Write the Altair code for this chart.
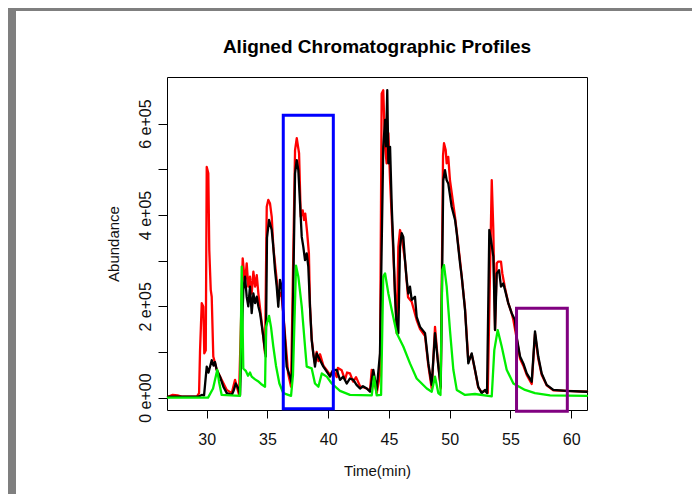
import altair as alt
import pandas as pd

TITLE = "Aligned Chromatographic Profiles"
X_TITLE = "Time(min)"
Y_TITLE = "Abundance"

TIME_TICKS = [30, 35, 40, 45, 50, 55, 60]
ABUND_TICKS = [0, 100000, 200000, 300000, 400000, 500000, 600000]
ABUND_LABELS = ["0 e+00", "", "2 e+05", "", "4 e+05", "", "6 e+05"]

# (time in min, abundance in units of 1e5)
RED = [(26.81,0.02),(27.20,0.06),(27.60,0.05),(28.00,0.02),(29.20,0.03),(29.37,0.10),(29.45,1.04),
       (29.59,2.07),(29.72,1.99),(29.80,0.97),(29.92,1.04),(30.00,5.05),(30.13,4.91),(30.21,3.23),
       (30.33,2.36),(30.41,2.21),(30.54,0.90),(30.82,0.61),(31.23,0.39),(31.65,0.17),(32.06,0.10),
       (32.33,0.39),(32.66,0.06),(32.96,3.05),(33.15,2.50),(33.29,2.94),(33.42,2.43),(33.56,2.65),
       (33.70,2.28),(33.84,2.76),(33.98,2.43),(34.12,2.68),(34.25,2.28),(34.53,1.63),(34.80,0.97),
       (34.94,4.18),(35.07,4.33),(35.21,4.25),(35.35,3.96),(35.48,3.30),(35.76,2.58),(35.89,2.14),
       (36.03,2.30),(36.17,2.20),(36.30,1.85),(36.70,0.53),(36.94,0.24),(37.27,5.42),(37.41,5.68),
       (37.60,5.35),(37.74,3.96),(37.90,4.10),(38.01,3.89),(38.11,4.03),(38.27,3.60),(38.41,3.16),
       (38.50,2.00),(38.64,1.30),(38.77,0.97),(38.91,0.75),(39.05,1.00),(39.19,0.80),(39.33,0.95),
       (39.60,0.70),(39.88,0.60),(40.15,0.50),(40.42,0.61),(40.70,0.45),(40.80,0.65),(41.11,0.60),
       (41.38,0.39),(41.55,0.55),(41.79,0.53),(42.05,0.35),(42.29,0.45),(42.62,0.25),(43.17,0.20),
       (43.44,0.15),(43.58,0.61),(43.99,0.10),(44.26,0.50),(44.40,6.66),(44.53,6.73),(44.68,5.49),
       (44.81,5.13),(44.95,5.79),(45.09,4.76),(45.36,3.16),(45.64,1.41),(45.77,3.30),(45.91,3.67),
       (46.05,3.52),(46.32,3.00),(46.57,2.20),(46.87,2.10),(47.28,1.70),(47.56,1.50),(47.97,1.35),
       (48.24,0.70),(48.52,0.20),(48.79,1.55),(49.06,0.70),(49.26,0.20),(49.45,5.30),(49.53,5.57),
       (49.67,5.42),(49.75,5.13),(49.88,5.27),(50.02,4.76),(50.44,3.95),(50.85,3.00),(51.26,1.95),
       (51.53,0.80),(51.81,0.95),(52.08,0.60),(52.35,0.22),(52.63,0.12),(52.91,0.15),(53.13,0.10),
       (53.35,3.20),(53.46,4.76),(53.59,3.67),(53.73,1.48),(53.87,2.94),(54.00,2.98),(54.22,2.98),
       (54.33,2.72),(54.55,2.40),(54.82,2.07),(55.10,1.85),(55.24,1.70),(55.51,1.30),(55.79,0.85),
       (56.06,0.70),(56.34,0.50),(56.75,0.30),(57.02,1.40),(57.29,0.85),(57.57,0.50),(57.98,0.27),
       (58.53,0.16),(59.63,0.15),(61.30,0.13)]

BLACK = [(26.81,0.02),(29.28,0.02),(29.59,0.06),(29.78,0.05),(30.00,0.68),(30.15,0.55),(30.41,0.82),
         (30.56,0.70),(30.68,0.78),(30.82,0.61),(31.09,0.46),(31.37,0.24),(31.65,0.10),(32.06,0.06),
         (32.21,0.15),(32.39,0.31),(32.60,0.20),(32.74,0.06),(33.01,2.36),(33.15,2.65),(33.29,2.21),
         (33.42,2.00),(33.56,2.43),(33.70,1.85),(33.84,2.28),(33.98,2.07),(34.12,2.21),(34.25,2.00),
         (34.39,1.85),(34.66,1.33),(34.86,0.90),(34.96,3.50),(35.13,3.89),(35.35,3.67),(35.48,3.30),
         (35.62,2.79),(35.76,2.43),(35.89,1.99),(36.03,2.58),(36.17,2.43),(36.30,1.85),(36.58,0.68),
         (36.86,0.46),(37.00,0.31),(37.27,4.91),(37.41,5.20),(37.54,4.98),(37.68,4.25),(37.82,3.52),
         (37.95,3.30),(38.09,3.01),(38.23,3.16),(38.36,2.87),(38.50,1.99),(38.64,1.26),(38.77,0.97),
         (38.91,0.68),(39.05,0.97),(39.33,0.82),(39.60,0.68),(39.88,0.57),(40.15,0.46),(40.40,0.60),
         (40.70,0.61),(40.97,0.39),(41.24,0.46),(41.52,0.31),(41.79,0.42),(42.07,0.39),(42.33,0.28),
         (42.62,0.20),(42.86,0.25),(43.17,0.20),(43.44,0.13),(43.71,0.61),(43.99,0.17),(44.26,0.97),
         (44.53,5.49),(44.68,6.08),(44.76,5.50),(44.86,6.73),(44.95,5.13),(45.09,5.49),(45.23,4.18),
         (45.36,3.30),(45.50,2.21),(45.64,1.55),(45.77,1.41),(45.91,3.30),(46.05,3.60),(46.18,3.52),
         (46.32,3.01),(46.46,2.58),(46.59,2.28),(46.73,2.43),(46.87,2.14),(47.14,2.21),(47.28,1.77),
         (47.56,1.55),(47.97,1.41),(48.24,0.75),(48.52,0.28),(48.79,1.41),(49.06,0.70),(49.26,0.24),
         (49.47,4.76),(49.61,4.98),(49.75,4.76),(49.88,4.69),(50.16,4.18),(50.44,3.89),(50.58,3.60),
         (50.85,2.94),(50.99,2.65),(51.26,1.92),(51.53,0.75),(51.81,0.97),(52.08,0.61),(52.35,0.24),
         (52.63,0.10),(52.91,0.17),(53.07,0.10),(53.26,3.67),(53.40,3.45),(53.59,3.09),(53.73,1.48),
         (53.87,2.72),(54.06,2.79),(54.22,2.43),(54.41,2.50),(54.55,2.36),(54.82,2.07),(55.10,1.85),
         (55.37,1.70),(55.51,1.33),(55.79,0.90),(56.06,0.75),(56.34,0.53),(56.75,0.35),(57.02,1.45),
         (57.29,0.90),(57.57,0.53),(57.98,0.28),(58.53,0.17),(59.63,0.15),(61.30,0.13)]

GREEN = [(26.81,0.00),(30.11,0.00),(30.52,0.20),(30.87,0.61),(31.01,0.35),(31.23,0.06),(32.74,0.04),
         (32.88,2.87),(33.01,0.64),(33.23,0.58),(33.40,0.48),(33.56,0.55),(33.70,0.46),(33.98,0.40),
         (34.22,0.36),(34.47,0.30),(34.80,0.24),(34.88,1.55),(35.13,1.79),(35.29,1.55),(35.48,1.12),
         (35.70,0.70),(35.98,0.31),(36.30,0.10),(36.94,0.04),(37.10,0.50),(37.35,2.89),(37.54,2.65),
         (37.82,2.00),(38.09,1.12),(38.23,0.68),(38.64,0.64),(38.91,0.31),(39.19,0.24),(39.47,0.53),
         (39.88,0.46),(40.29,0.31),(40.97,0.15),(41.79,0.06),(43.58,0.05),(43.77,0.46),(43.99,0.05),
         (44.35,0.06),(44.53,2.65),(44.68,2.72),(44.95,2.28),(45.23,1.92),(45.64,1.41),(46.18,1.12),
         (46.73,0.75),(47.28,0.42),(48.11,0.20),(48.52,0.13),(48.79,0.46),(49.06,0.10),(49.24,0.06),
         (49.39,2.79),(49.53,2.90),(49.75,2.43),(50.02,1.48),(50.30,0.61),(50.58,0.17),(51.26,0.06),
         (52.08,0.08),(53.46,0.03),(53.67,1.04),(53.95,1.48),(54.28,1.12),(54.69,0.61),(55.24,0.31),
         (56.20,0.17),(57.02,0.10),(58.26,0.05),(61.30,0.04)]

# highlight boxes: colour, time from, time to, abundance from, abundance to (1e5 units)
BOXES = [("#0000ff", 36.30, 40.42, -0.24, 6.18),
         ("#800080", 55.50, 59.68, -0.30, 1.96)]

FONT = "Liberation Sans"
X_DOMAIN = [26.73, 61.30]
Y_DOMAIN = [-27000, 702000]


def series_df(pairs):
    return pd.DataFrame({
        "time": [p[0] for p in pairs],
        "abund": [p[1] * 1e5 for p in pairs],
        "idx": list(range(len(pairs))),
    })


label_expr = "''"
for val, lab in reversed(list(zip(ABUND_TICKS, ABUND_LABELS))):
    label_expr = f"datum.value == {val} ? '{lab}' : ({label_expr})"

x_scale = alt.Scale(domain=X_DOMAIN, nice=False, zero=False)
y_scale = alt.Scale(domain=Y_DOMAIN, nice=False, zero=False)

x_axis = alt.Axis(values=TIME_TICKS, title=X_TITLE, grid=False, domain=False,
                  tickSize=8, tickColor="black", tickWidth=1,
                  labelFont=FONT, labelFontSize=16, labelColor="#111111", labelPadding=13,
                  labelFlush=False, labelOverlap=False,
                  titleFont=FONT, titleFontSize=15, titleFontWeight="normal", titleColor="#111111",
                  titleY=60, titleBaseline="middle")
y_axis = alt.Axis(values=ABUND_TICKS, labelExpr=label_expr, title=Y_TITLE, grid=False, domain=False,
                  tickSize=9, tickColor="black", tickWidth=1,
                  labelFont=FONT, labelFontSize=16, labelColor="#111111", labelPadding=8,
                  labelAngle=270, labelAlign="center", labelBaseline="alphabetic",
                  labelFlush=False, labelOverlap=False,
                  titleFont=FONT, titleFontSize=15, titleFontWeight="normal", titleColor="#111111",
                  titleAngle=270, titleX=-54, titleY=166.5, titleAlign="center", titleBaseline="middle")


def line_layer(pairs, color):
    return alt.Chart(series_df(pairs)).mark_line(
        color=color, strokeWidth=2.3, strokeJoin="round", strokeCap="round"
    ).encode(
        x=alt.X("time:Q", scale=x_scale, axis=x_axis),
        y=alt.Y("abund:Q", scale=y_scale, axis=y_axis),
        order="idx:Q",
    )


boxes_df = pd.DataFrame({
    "color": [b[0] for b in BOXES],
    "t1": [b[1] for b in BOXES],
    "t2": [b[2] for b in BOXES],
    "a1": [b[3] * 1e5 for b in BOXES],
    "a2": [b[4] * 1e5 for b in BOXES],
})
boxes = alt.Chart(boxes_df).mark_rect(fillOpacity=0, strokeWidth=3).encode(
    x=alt.X("t1:Q", scale=x_scale, axis=x_axis),
    x2="t2:Q",
    y=alt.Y("a1:Q", scale=y_scale, axis=y_axis),
    y2="a2:Q",
    stroke=alt.Stroke("color:N", scale=None),
)

# grey window frame of the original screenshot
frame_df = pd.DataFrame({"k": [0]})
frame_top = alt.Chart(frame_df).mark_rect(color="#7f7f7f").encode(
    x=alt.value(-159), x2=alt.value(525), y=alt.value(-69), y2=alt.value(-66))
frame_left = alt.Chart(frame_df).mark_rect(color="#7f7f7f").encode(
    x=alt.value(-159), x2=alt.value(-151), y=alt.value(-69), y2=alt.value(417))

# chart title as a text mark for exact placement
title_df = pd.DataFrame({"title": [TITLE]})
title = alt.Chart(title_df).mark_text(
    font=FONT, fontSize=19, fontWeight="bold", color="black",
    align="center", baseline="alphabetic",
).encode(x=alt.value(210), y=alt.value(-24), text="title:N")

chart = alt.layer(
    frame_top, frame_left, title,
    line_layer(RED, "#ff0000"),
    line_layer(BLACK, "#000000"),
    line_layer(GREEN, "#00ee00"),
    boxes,
).properties(
    width=420, height=333,
    padding={"left": 159, "top": 69, "right": 105, "bottom": 84},
    autosize=alt.AutoSizeParams(type="none"),
    background="white",
).configure_view(stroke="black", strokeWidth=1)

chart.save("out.html", embed_options={"renderer": "svg", "actions": False})
